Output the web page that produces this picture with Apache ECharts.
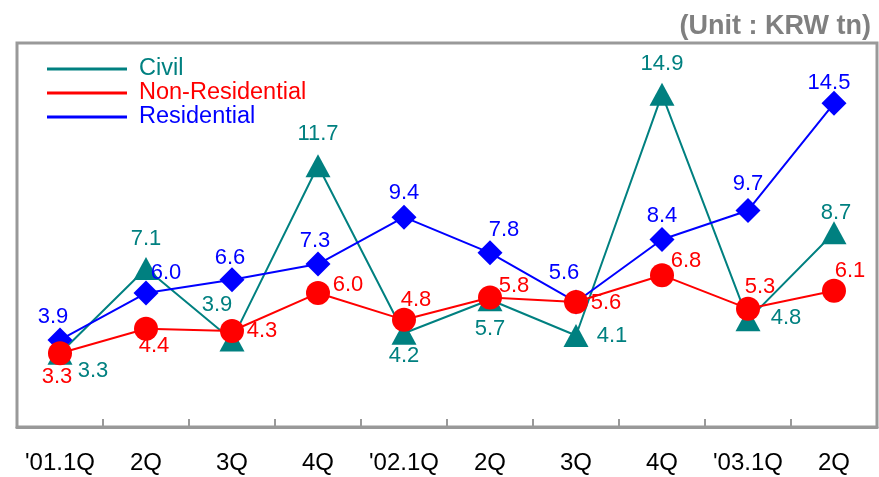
<!DOCTYPE html>
<html>
<head>
<meta charset="utf-8">
<script src="https://cdn.jsdelivr.net/npm/echarts@6/dist/echarts.min.js"></script>
<style>
html,body{margin:0;padding:0;background:#fff;}
#chart{width:879px;height:477px;}
</style>
</head>
<body>
<div id="chart"></div>
<script>
var categories = ["'01.1Q", "2Q", "3Q", "4Q", "'02.1Q", "2Q", "3Q", "4Q", "'03.1Q", "2Q"];
var civil = [3.3, 7.1, 3.9, 11.7, 4.2, 5.7, 4.1, 14.9, 4.8, 8.7];
var nonResidential = [3.3, 4.4, 4.3, 6.0, 4.8, 5.8, 5.6, 6.8, 5.3, 6.1];
var residential = [3.9, 6.0, 6.6, 7.3, 9.4, 7.8, 5.6, 8.4, 9.7, 14.5];

// label placement (style only)
var civilLabelOffset = [[33,18],[0,-30],[-15,-35],[0,-32],[0,23],[0,29],[36,0],[0,-30],[38,-2],[2,-20]];
var nonResLabelOffset = [[-3,24],[8,17],[30,0],[30,-8],[12,-20],[24,-12],[30,1],[24,-14],[12,-22],[16,-20]];
var resLabelOffset = [[-7,-23],[20,-20],[-2,-22],[-3,-23],[0,-24],[14,-23],[-12,-29],[0,-24],[0,-27],[-5,-20]];

var FONT = 'Arial, "Liberation Sans", sans-serif';
var C_CIVIL = '#008080', C_NONRES = '#FF0000', C_RES = '#0000FF';

function items(values, offsets) {
  return values.map(function (v, i) {
    return { value: v, label: { offset: offsets[i] } };
  });
}

function makeSeries(name, values, offsets, color, symbol, size, z) {
  return {
    name: name,
    type: 'line',
    data: items(values, offsets),
    symbol: symbol,
    symbolSize: size,
    z: z,
    lineStyle: { color: color, width: 2 },
    itemStyle: { color: color },
    label: {
      show: true,
      position: 'inside',
      color: color,
      fontSize: 22,
      fontFamily: FONT,
      formatter: function (p) { return p.value.toFixed(1); }
    },
    emphasis: { disabled: true },
    animation: false
  };
}

var chart = echarts.init(document.getElementById('chart'));
chart.setOption({
  animation: false,
  title: {
    text: '(Unit : KRW tn)',
    right: 3,
    top: 8,
    textStyle: { color: '#808080', fontSize: 27, fontWeight: 'bold', fontFamily: FONT }
  },
  legend: {
    orient: 'vertical',
    left: 42,
    top: 52,
    itemWidth: 80,
    itemHeight: 3,
    itemGap: 0,
    icon: 'rect',
    selectedMode: false,
    data: [
      { name: 'Civil', textStyle: { color: C_CIVIL } },
      { name: 'Non-Residential', textStyle: { color: C_NONRES } },
      { name: 'Residential', textStyle: { color: C_RES } }
    ],
    textStyle: { fontSize: 23.5, fontFamily: FONT, lineHeight: 23.5, padding: [0, 0, 0, 7] }
  },
  grid: {
    left: 17, right: 2, top: 43, bottom: 50,
    show: true, borderColor: '#999999', borderWidth: 3, backgroundColor: 'transparent'
  },
  xAxis: {
    type: 'category',
    data: categories,
    boundaryGap: true,
    z: 10,
    axisLine: { show: true, lineStyle: { color: '#999999', width: 3 } },
    axisTick: { show: true, inside: true, alignWithLabel: false, interval: 0, length: 8, lineStyle: { color: '#999999', width: 2 } },
    axisLabel: { color: '#000', fontSize: 24, fontFamily: FONT, margin: 24, interval: 0 },
    splitLine: { show: false }
  },
  yAxis: {
    type: 'value',
    min: 0,
    max: 17.2,
    show: false,
    splitLine: { show: false }
  },
  series: [
    makeSeries('Civil', civil, civilLabelOffset, C_CIVIL, 'triangle', [25, 23], 2),
    makeSeries('Residential', residential, resLabelOffset, C_RES, 'diamond', [25, 25], 3),
    makeSeries('Non-Residential', nonResidential, nonResLabelOffset, C_NONRES, 'circle', 24, 4)
  ]
});
</script>
</body>
</html>
